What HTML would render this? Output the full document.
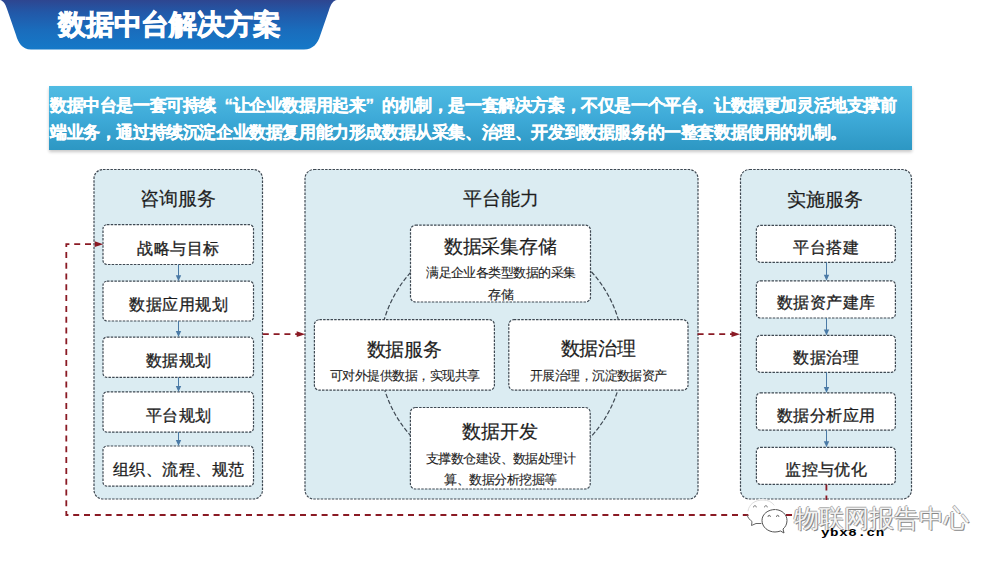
<!DOCTYPE html>
<html><head><meta charset="utf-8">
<style>
html,body{margin:0;padding:0;background:#fff;width:1000px;height:562px;overflow:hidden;font-family:"Liberation Sans",sans-serif;}
#c{position:absolute;left:0;top:0;width:1000px;height:562px;font-family:"Liberation Sans",sans-serif;}
#intro{position:absolute;left:49px;top:86px;width:863px;height:64px;background:linear-gradient(#50bce3,#3eaad8 50%,#2d97c3);box-shadow:0 2px 3px rgba(0,0,0,0.22);}
#intro div{position:absolute;left:1px;color:#fff;font-weight:bold;font-size:17px;letter-spacing:-0.4px;white-space:nowrap;line-height:20px;-webkit-text-stroke:0.3px #fff;}
.q{display:inline-block;width:16.6px;}.ql{text-align:right;}
#wm{position:absolute;left:794px;top:502px;font-size:24.5px;color:#f4f4f4;white-space:nowrap;text-shadow:1px 1px 0 #888,-1px 0 0 #aaa,0 -1px 0 #aaa;}
#url{position:absolute;left:821px;top:526.5px;font-family:"Liberation Mono",monospace;font-weight:bold;font-size:10.5px;letter-spacing:0.45px;color:#000;line-height:12px;transform:scaleX(1.35);transform-origin:0 0;}
</style></head><body>
<svg id="c" width="1000" height="562" viewBox="0 0 1000 562">
<defs>
<linearGradient id="tg" x1="0" y1="0" x2="0" y2="1">
<stop offset="0" stop-color="#2e4690"/><stop offset="0.25" stop-color="#2258a8"/><stop offset="0.6" stop-color="#1a6cbc"/><stop offset="1" stop-color="#1579c8"/>
</linearGradient>
</defs>
<path d="M0,0 C3,0.5 5.5,4 7,9 L16,35 C18,42 22,49.5 31,49.5 L304,49.5 C313,49.5 318,43 320,36 L329,10 C331,4 333,0.5 337,0 Z" fill="url(#tg)"/>
<text x="58" y="24.5" font-size="28" letter-spacing="-0.2" font-weight="bold" fill="#fff" stroke="#fff" stroke-width="0.8" dominant-baseline="central">数据中台解决方案</text>
<rect x="94.0" y="169.5" width="168.5" height="329.5" rx="9" fill="#dbecf2" stroke="#3e4852" stroke-width="1.2" stroke-dasharray="2.5 1.2"/>
<rect x="305.0" y="169.5" width="393.0" height="329.5" rx="9" fill="#dbecf2" stroke="#3e4852" stroke-width="1.2" stroke-dasharray="2.5 1.2"/>
<rect x="740.5" y="169.5" width="171.0" height="329.5" rx="9" fill="#dbecf2" stroke="#3e4852" stroke-width="1.2" stroke-dasharray="2.5 1.2"/>
<text x="178.15" y="198.50" font-size="19" letter-spacing="-0.10" font-weight="normal" fill="#1e1e1e" stroke="#1e1e1e" stroke-width="0.2" text-anchor="middle" dominant-baseline="central" >咨询服务</text>
<text x="501.15" y="198.20" font-size="19" letter-spacing="-0.10" font-weight="normal" fill="#1e1e1e" stroke="#1e1e1e" stroke-width="0.2" text-anchor="middle" dominant-baseline="central" >平台能力</text>
<text x="825.15" y="199.40" font-size="19" letter-spacing="-0.10" font-weight="normal" fill="#1e1e1e" stroke="#1e1e1e" stroke-width="0.2" text-anchor="middle" dominant-baseline="central" >实施服务</text>
<rect x="103.0" y="224.7" width="150.5" height="39.8" rx="4" fill="#ffffff" stroke="#3e4852" stroke-width="1.2" stroke-dasharray="2.5 1.2"/>
<text x="178.62" y="248.10" font-size="16" letter-spacing="0.45" font-weight="normal" fill="#1e1e1e" stroke="#1e1e1e" stroke-width="0.3" text-anchor="middle" dominant-baseline="central" >战略与目标</text>
<rect x="103.0" y="281.2" width="150.5" height="39.8" rx="4" fill="#ffffff" stroke="#3e4852" stroke-width="1.2" stroke-dasharray="2.5 1.2"/>
<text x="178.62" y="304.60" font-size="16" letter-spacing="0.45" font-weight="normal" fill="#1e1e1e" stroke="#1e1e1e" stroke-width="0.3" text-anchor="middle" dominant-baseline="central" >数据应用规划</text>
<rect x="103.0" y="337.1" width="150.5" height="40.3" rx="4" fill="#ffffff" stroke="#3e4852" stroke-width="1.2" stroke-dasharray="2.5 1.2"/>
<text x="178.62" y="360.75" font-size="16" letter-spacing="0.45" font-weight="normal" fill="#1e1e1e" stroke="#1e1e1e" stroke-width="0.3" text-anchor="middle" dominant-baseline="central" >数据规划</text>
<rect x="103.0" y="391.9" width="150.5" height="40.2" rx="4" fill="#ffffff" stroke="#3e4852" stroke-width="1.2" stroke-dasharray="2.5 1.2"/>
<text x="178.62" y="415.50" font-size="16" letter-spacing="0.45" font-weight="normal" fill="#1e1e1e" stroke="#1e1e1e" stroke-width="0.3" text-anchor="middle" dominant-baseline="central" >平台规划</text>
<rect x="103.0" y="446.0" width="150.5" height="40.2" rx="4" fill="#ffffff" stroke="#3e4852" stroke-width="1.2" stroke-dasharray="2.5 1.2"/>
<text x="178.62" y="469.60" font-size="16" letter-spacing="0.45" font-weight="normal" fill="#1e1e1e" stroke="#1e1e1e" stroke-width="0.3" text-anchor="middle" dominant-baseline="central" >组织、流程、规范</text>
<rect x="756.4" y="225.4" width="139.0" height="36.9" rx="4" fill="#ffffff" stroke="#3e4852" stroke-width="1.2" stroke-dasharray="2.5 1.2"/>
<text x="826.23" y="247.35" font-size="16" letter-spacing="0.45" font-weight="normal" fill="#1e1e1e" stroke="#1e1e1e" stroke-width="0.3" text-anchor="middle" dominant-baseline="central" >平台搭建</text>
<rect x="756.4" y="280.8" width="139.0" height="37.2" rx="4" fill="#ffffff" stroke="#3e4852" stroke-width="1.2" stroke-dasharray="2.5 1.2"/>
<text x="826.23" y="302.90" font-size="16" letter-spacing="0.45" font-weight="normal" fill="#1e1e1e" stroke="#1e1e1e" stroke-width="0.3" text-anchor="middle" dominant-baseline="central" >数据资产建库</text>
<rect x="756.4" y="335.4" width="139.0" height="36.9" rx="4" fill="#ffffff" stroke="#3e4852" stroke-width="1.2" stroke-dasharray="2.5 1.2"/>
<text x="826.23" y="357.35" font-size="16" letter-spacing="0.45" font-weight="normal" fill="#1e1e1e" stroke="#1e1e1e" stroke-width="0.3" text-anchor="middle" dominant-baseline="central" >数据治理</text>
<rect x="756.4" y="392.9" width="139.0" height="37.3" rx="4" fill="#ffffff" stroke="#3e4852" stroke-width="1.2" stroke-dasharray="2.5 1.2"/>
<text x="826.23" y="415.05" font-size="16" letter-spacing="0.45" font-weight="normal" fill="#1e1e1e" stroke="#1e1e1e" stroke-width="0.3" text-anchor="middle" dominant-baseline="central" >数据分析应用</text>
<rect x="756.4" y="447.3" width="139.0" height="37.0" rx="4" fill="#ffffff" stroke="#3e4852" stroke-width="1.2" stroke-dasharray="2.5 1.2"/>
<text x="826.23" y="469.30" font-size="16" letter-spacing="0.45" font-weight="normal" fill="#1e1e1e" stroke="#1e1e1e" stroke-width="0.3" text-anchor="middle" dominant-baseline="central" >监控与优化</text>
<line x1="178.5" y1="264.5" x2="178.5" y2="276.2" stroke="#4a7aa6" stroke-width="1"/><path d="M175.8,275.2 L181.2,275.2 L178.5,281.2 Z" fill="#4a7aa6"/>
<line x1="826.5" y1="262.3" x2="826.5" y2="275.8" stroke="#4a7aa6" stroke-width="1"/><path d="M823.8,274.8 L829.2,274.8 L826.5,280.8 Z" fill="#4a7aa6"/>
<line x1="178.5" y1="321" x2="178.5" y2="332.1" stroke="#4a7aa6" stroke-width="1"/><path d="M175.8,331.1 L181.2,331.1 L178.5,337.1 Z" fill="#4a7aa6"/>
<line x1="826.5" y1="318" x2="826.5" y2="330.4" stroke="#4a7aa6" stroke-width="1"/><path d="M823.8,329.4 L829.2,329.4 L826.5,335.4 Z" fill="#4a7aa6"/>
<line x1="178.5" y1="377.4" x2="178.5" y2="386.9" stroke="#4a7aa6" stroke-width="1"/><path d="M175.8,385.9 L181.2,385.9 L178.5,391.9 Z" fill="#4a7aa6"/>
<line x1="826.5" y1="372.3" x2="826.5" y2="387.9" stroke="#4a7aa6" stroke-width="1"/><path d="M823.8,386.9 L829.2,386.9 L826.5,392.9 Z" fill="#4a7aa6"/>
<line x1="178.5" y1="432.1" x2="178.5" y2="441" stroke="#4a7aa6" stroke-width="1"/><path d="M175.8,440 L181.2,440 L178.5,446 Z" fill="#4a7aa6"/>
<line x1="826.5" y1="430.2" x2="826.5" y2="442.3" stroke="#4a7aa6" stroke-width="1"/><path d="M823.8,441.3 L829.2,441.3 L826.5,447.3 Z" fill="#4a7aa6"/>
<circle cx="501.3" cy="354" r="122" fill="none" stroke="#3e4852" stroke-width="1.2" stroke-dasharray="4.5 2"/>
<rect x="410.5" y="225.2" width="180.0" height="76.8" rx="5" fill="#ffffff" stroke="#3e4852" stroke-width="1.2" stroke-dasharray="2.5 1.2"/>
<rect x="314.4" y="319.7" width="180.0" height="70.5" rx="5" fill="#ffffff" stroke="#3e4852" stroke-width="1.2" stroke-dasharray="2.5 1.2"/>
<rect x="508.8" y="319.7" width="179.2" height="70.5" rx="5" fill="#ffffff" stroke="#3e4852" stroke-width="1.2" stroke-dasharray="2.5 1.2"/>
<rect x="410.4" y="407.5" width="179.8" height="81.5" rx="5" fill="#ffffff" stroke="#3e4852" stroke-width="1.2" stroke-dasharray="2.5 1.2"/>
<text x="500.15" y="246.40" font-size="19" letter-spacing="-0.30" font-weight="normal" fill="#1e1e1e" stroke="#1e1e1e" stroke-width="0.2" text-anchor="middle" dominant-baseline="central" >数据采集存储</text>
<text x="500.83" y="272.70" font-size="13" letter-spacing="-0.54" font-weight="normal" fill="#1e1e1e" stroke="#1e1e1e" stroke-width="0.12" text-anchor="middle" dominant-baseline="central" >满足企业各类型数据的采集</text>
<text x="500.83" y="294.30" font-size="13" letter-spacing="-0.54" font-weight="normal" fill="#1e1e1e" stroke="#1e1e1e" stroke-width="0.12" text-anchor="middle" dominant-baseline="central" >存储</text>
<text x="403.95" y="349.00" font-size="19" letter-spacing="-0.30" font-weight="normal" fill="#1e1e1e" stroke="#1e1e1e" stroke-width="0.2" text-anchor="middle" dominant-baseline="central" >数据服务</text>
<text x="404.73" y="375.00" font-size="13" letter-spacing="-0.54" font-weight="normal" fill="#1e1e1e" stroke="#1e1e1e" stroke-width="0.12" text-anchor="middle" dominant-baseline="central" >可对外提供数据，实现共享</text>
<text x="598.15" y="348.90" font-size="19" letter-spacing="-0.30" font-weight="normal" fill="#1e1e1e" stroke="#1e1e1e" stroke-width="0.2" text-anchor="middle" dominant-baseline="central" >数据治理</text>
<text x="598.33" y="375.00" font-size="13" letter-spacing="-0.54" font-weight="normal" fill="#1e1e1e" stroke="#1e1e1e" stroke-width="0.12" text-anchor="middle" dominant-baseline="central" >开展治理，沉淀数据资产</text>
<text x="499.85" y="431.40" font-size="19" letter-spacing="-0.30" font-weight="normal" fill="#1e1e1e" stroke="#1e1e1e" stroke-width="0.2" text-anchor="middle" dominant-baseline="central" >数据开发</text>
<text x="500.53" y="458.00" font-size="13" letter-spacing="-0.54" font-weight="normal" fill="#1e1e1e" stroke="#1e1e1e" stroke-width="0.12" text-anchor="middle" dominant-baseline="central" >支撑数仓建设、数据处理计</text>
<text x="500.53" y="479.70" font-size="13" letter-spacing="-0.54" font-weight="normal" fill="#1e1e1e" stroke="#1e1e1e" stroke-width="0.12" text-anchor="middle" dominant-baseline="central" >算、数据分析挖掘等</text>
<path d="M262.8,334.2 H298" stroke="#8a1a24" stroke-width="1.8" fill="none" stroke-dasharray="6 4.8"/><path d="M296.7,331.3 L305.2,334.2 L296.7,337.09999999999997 Z" fill="#8a1a24"/>
<path d="M697.6,334.2 H733" stroke="#8a1a24" stroke-width="1.8" fill="none" stroke-dasharray="6 4.8"/><path d="M731.5,331.3 L740,334.2 L731.5,337.09999999999997 Z" fill="#8a1a24"/>
<path d="M826.4,484.6 V515 H66.3 V244.2 H96" stroke="#8a1a24" stroke-width="1.8" fill="none" stroke-dasharray="6 4.8"/><path d="M94.7,241.29999999999998 L103.2,244.2 L94.7,247.1 Z" fill="#8a1a24"/>
<rect x="792" y="500" width="178" height="31" fill="#fff"/>
<path d="M748,512 C748,504 755,499 762,499 C770,499 776,504 776,511 L776,522 L761,524 L752,526 L753,521 C750,519 748,516 748,512 Z" fill="#fff"/>
<g fill="none" stroke="#777" stroke-width="1" stroke-linecap="round">
<path d="M747,515 C748,518 750,520 752,521.5 L751.5,525.5 L756,523.5 L761,523.5" stroke="#666"/>
<path d="M748,511 C749,504 755,500 763,500 C768,500 772,502 774,505" stroke="#ddd"/>
<path d="M753.5,507 a1.4,1.4 0 0 1 2.8,0 M764.5,507 a1.4,1.4 0 0 1 2.8,0" stroke="#888"/>
<path d="M775,509.5 C768,509.5 762,514 762,520.5 C762,527 768,532 775,532 C777,532 779,531.5 780.5,531 L784,533 L783,529 C785.5,527 787,524 787,520.5 C787,514.5 782,510 776,509.6"  fill="#fff" stroke="#555"/>
<path d="M768,516.5 a1.2,1.2 0 0 1 2.4,0 M776.5,516.5 a1.2,1.2 0 0 1 2.4,0" stroke="#666"/>
</g>
</svg>
<div id="intro">
<div style="top:10px">数据中台是一套可持续<span class="q ql">“</span>让企业数据用起来<span class="q">”</span>的机制，是一套解决方案，不仅是一个平台。让数据更加灵活地支撑前</div>
<div style="top:36.5px">端业务，通过持续沉淀企业数据复用能力形成数据从采集、治理、开发到数据服务的一整套数据使用的机制。</div>
</div>
<div id="wm">物联网报告中心</div>
<div id="url">ybx8.cn</div>
</body></html>
